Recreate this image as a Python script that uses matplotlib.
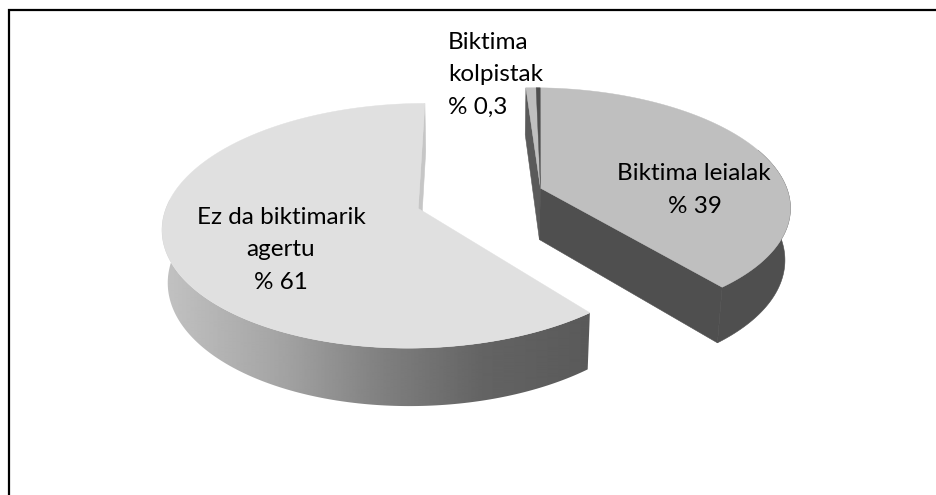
import numpy as np
import matplotlib
matplotlib.use('Agg')
import matplotlib.pyplot as plt
from matplotlib.patches import Polygon

# Data
values = [39, 0.3, 61]
names = ['Biktima leialak', 'Biktima kolpistak', 'Ez da biktimarik agertu']
value_labels = ['% 39', '% 0,3', '% 61']

plt.rcParams['font.family'] = ['Lato', 'DejaVu Sans']

fig = plt.figure(figsize=(9.36, 4.95), dpi=100)
ax = fig.add_axes([0, 0, 1, 1])
ax.axis('off')

# camera for the fake 3d pie
cx, cy = 480.0, 198.0
el = np.radians(28.0)
dist = 6.3
focal = 1570.0
height = 0.24
explode = 0.26
start_deg = 0.8
sliver_deg = 2.7


def project(x, y, z):
    depth = dist + y * np.cos(el) - z * np.sin(el)
    sx = cx + focal * x / depth
    sy = cy - focal * (y * np.sin(el) + z * np.cos(el)) / depth
    return np.column_stack([np.atleast_1d(sx), np.atleast_1d(sy)])


def disc(a_deg, off):
    a = np.radians(a_deg)
    return np.sin(a) + off[0], np.cos(a) + off[1]


def shade_big(x):
    return np.interp(x, [165, 283, 383, 483, 596], [0.76, 0.64, 0.50, 0.39, 0.35])


def draw_slice(a0, a1, off, top_col, z, wall_l=None, wall_r=None, side=None):
    ang = np.linspace(a0, a1, 240)
    x, y = disc(ang, off)
    # radial walls
    for a, col in [(a0, wall_l), (a1, wall_r)]:
        if col is None:
            continue
        ox, oy = disc(a, off)
        pts = np.vstack([project(off[0], off[1], 0), project(ox, oy, 0),
                         project(ox, oy, -height), project(off[0], off[1], -height)])
        ax.add_patch(Polygon(pts, closed=True, fc=col, ec=col, lw=0.4, zorder=z))
    # outer side
    top = project(x, y, 0 * x)
    bot = project(x, y, 0 * x - height)
    front = np.cos(np.radians(ang)) < 0.35
    if side is not None:
        pts = np.vstack([top[front], bot[front][::-1]])
        if callable(side):
            xs = np.arange(140, 620)
            im = ax.imshow(side(xs)[None, :], extent=[140, 620, 420, 200], aspect='auto',
                           cmap='gray', vmin=0, vmax=1, zorder=z, interpolation='bilinear')
            im.set_clip_path(Polygon(pts, closed=True, transform=ax.transData))
        else:
            ax.add_patch(Polygon(pts, closed=True, fc=side, ec=side, lw=0.4, zorder=z))
    pts = np.vstack([project(off[0], off[1], 0), top])
    ax.add_patch(Polygon(pts, closed=True, fc=top_col, ec=top_col, lw=0.3, zorder=z + 0.5))


total = sum(values)
deg = [v / total * 360 for v in values]
a_leial = start_deg
a_big = a_leial + deg[0]

bis_big = np.radians(a_big + deg[2] / 2)
off_big = (explode * np.sin(bis_big), explode * np.cos(bis_big))
bis_lei = np.radians(a_leial + deg[0] / 2)
off_lei = (explode * np.sin(bis_lei), explode * np.cos(bis_lei))

draw_slice(a_big, a_big + deg[2], off_big, '#e0e0e0', 1, wall_r='#c6c6c6', side=shade_big)
draw_slice(a_leial - sliver_deg, a_leial + deg[0], off_lei, '#bfbfbf', 2,
           wall_l='#5a5a5a', wall_r='#4f4f4f', side='#4f4f4f')
# thin slice, sits on the same tip as the 39 one
draw_slice(a_leial, a_leial + deg[1], off_lei, '#4f4f4f', 3)

# Labels
for txt, x, y, ha in [('Biktima', 448, 49, 'left'), ('kolpistak', 448, 81, 'left'),
                      (value_labels[1], 448, 114, 'left'),
                      (names[0], 694, 180, 'center'), (value_labels[0], 695, 213, 'center'),
                      ('Ez da biktimarik', 281, 224, 'center'), ('agertu', 281, 256, 'center'),
                      (value_labels[2], 281, 289, 'center')]:
    ax.text(x, y, txt, ha=ha, va='baseline', fontsize=17.5, color='black', zorder=5)

# outer frame, only left and top edge are there
ax.plot([8.5, 8.5, 936], [495, 10, 10], color='black', lw=1.6, solid_joinstyle='miter', zorder=5)

ax.set_xlim(0, 936)
ax.set_ylim(495, 0)

fig.savefig('out.png', dpi=100)
